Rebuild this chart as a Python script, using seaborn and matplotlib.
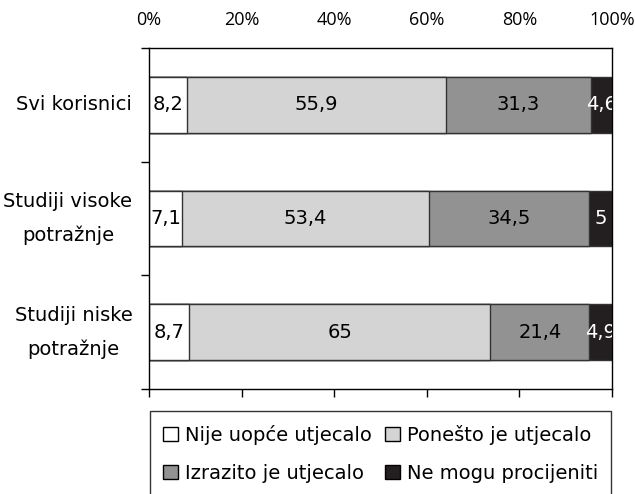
import matplotlib
matplotlib.use("Agg")
import matplotlib.pyplot as plt
from matplotlib.patches import Patch
from matplotlib.ticker import FixedLocator
import seaborn as sns
import pandas as pd
import numpy as np

categories = ["Svi korisnici", "Studiji visoke\npotražnje", "Studiji niske\npotražnje"]
series_names = ["Nije uopće utjecalo", "Ponešto je utjecalo", "Izrazito je utjecalo", "Ne mogu procijeniti"]
nije = [8.2, 7.1, 8.7]
ponesto = [55.9, 53.4, 65]
izrazito = [31.3, 34.5, 21.4]
ne_mogu = [4.6, 5, 4.9]
x_ticks = [0, 20, 40, 60, 80, 100]
x_tick_labels = ["0%", "20%", "40%", "60%", "80%", "100%"]

colors = ["#ffffff", "#d4d4d4", "#929292", "#231f20"]
text_colors = ["black", "black", "black", "white"]
edge = "#333333"

sns.set_theme(style="ticks")
plt.rcParams["font.family"] = ["DejaVu Sans"]
plt.rcParams["text.color"] = "black"
plt.rcParams["xtick.color"] = "black"
plt.rcParams["ytick.color"] = "black"

series = [nije, ponesto, izrazito, ne_mogu]
values = np.array(series)
cum = np.cumsum(values, axis=0)

fig = plt.figure(figsize=(6.35, 4.94), dpi=100)
ax = fig.add_axes([149/635, 1-389/494, 463/635, 341/494])

for i in range(3, -1, -1):
    df = pd.DataFrame({"cat": categories, "val": cum[i]})
    sns.barplot(data=df, y="cat", x="val", orient="h", color=colors[i],
                edgecolor=edge, linewidth=1.0, width=0.49, ax=ax, saturation=1)

for i in range(4):
    for j in range(3):
        v = values[i, j]
        start = cum[i, j] - v
        ctr = start + v / 2
        lab = f"{v:g}".replace(".", ",")
        ax.text(ctr, j, lab, ha="center", va="center", fontsize=14,
                color=text_colors[i], clip_on=True)

ax.set_xlim(0, 100)
ax.set_ylim(2.5, -0.5)
ax.set_xlabel("")
ax.set_ylabel("")
ax.set_xticks(x_ticks)
ax.set_xticklabels(x_tick_labels, fontsize=13, family="Open Sans")
ax.xaxis.set_tick_params(top=False, bottom=True, labeltop=True, labelbottom=False,
                         direction="out", length=6, width=1, color="black", pad=8)

ax.set_yticks(range(3))
ax.set_yticklabels(categories, fontsize=14, multialignment="center", linespacing=1.95)
ax.yaxis.set_tick_params(which="major", length=0, pad=12)
ax.yaxis.set_minor_locator(FixedLocator([-0.5, 0.5, 1.5, 2.5]))
ax.yaxis.set_tick_params(which="minor", left=True, length=6, width=1, color="black", direction="out")
for t in ax.get_yticklabels():
    t.set_va("center")

for s in ax.spines.values():
    s.set_visible(True)
    s.set_color("black")
    s.set_linewidth(1.0)

handles = [Patch(facecolor=c, edgecolor="black", linewidth=1.0) for c in colors]
order = [0, 2, 1, 3]
leg = ax.legend([handles[k] for k in order], [series_names[k] for k in order],
                loc="upper center", bbox_to_anchor=(0.5, -0.0645),
                ncol=2, fontsize=14, frameon=True, fancybox=False, edgecolor="black",
                borderaxespad=0, handlelength=0.75, handleheight=0.75,
                handletextpad=0.35, labelspacing=1.0, borderpad=0.7, columnspacing=0.7)
leg.get_frame().set_linewidth(1.0)

fig.savefig("out.png", dpi=100)
